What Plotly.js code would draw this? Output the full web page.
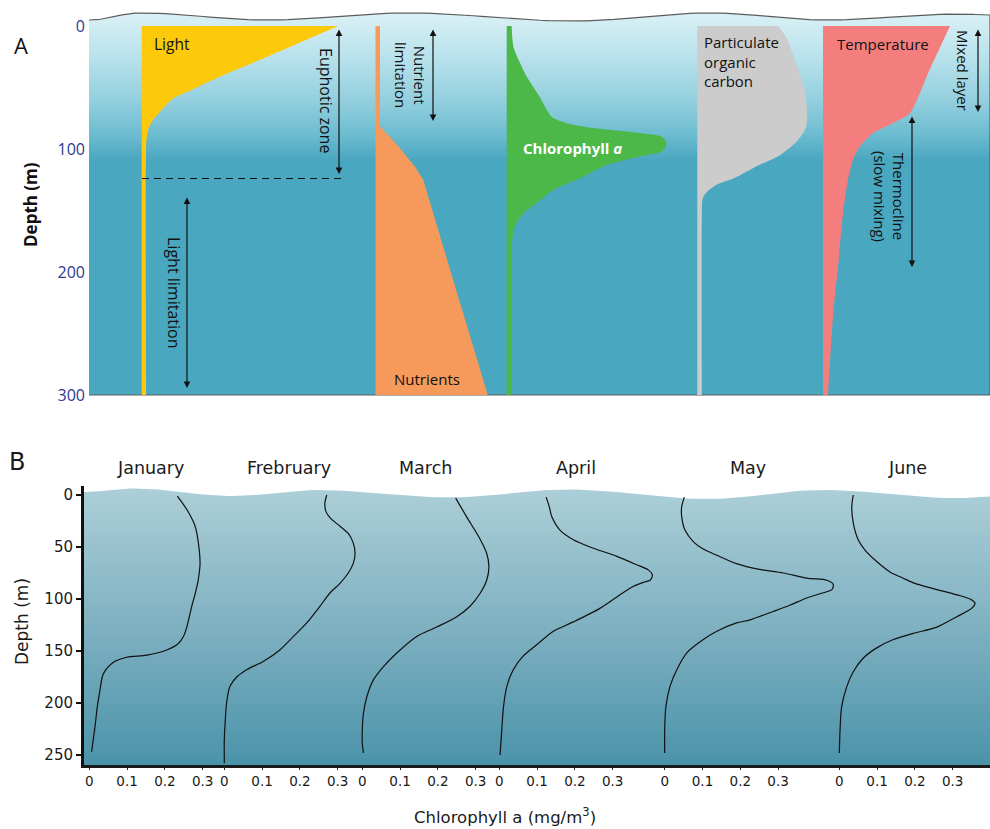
<!DOCTYPE html>
<html>
<head>
<meta charset="utf-8">
<script src="https://cdn.plot.ly/plotly-3.0.1.min.js"></script>
<style>
  html, body { margin: 0; padding: 0; background: #fff; }
  #chart { width: 990px; height: 829px; }
</style>
</head>
<body>
<div id="chart"></div>
<script>
// ---------- Panel A: idealised water-column profiles (100 = maximum of each column) ----------
const lightDepth = [0, 10, 20, 30, 37, 45, 52, 58, 64, 70, 76, 82, 90, 100, 300];
const lightValue = [100, 85.5, 71.2, 56.5, 45.8, 34.6, 25.4, 16.8, 12.5, 9.2, 6.0, 3.8, 2.6, 2.2, 2.2];

const nutrientDepth = [0, 82, 83, 88, 93, 100, 106, 115, 125, 150, 174, 200, 223, 250, 272, 300];
const nutrientValue = [4.0, 4.0, 5.3, 10.6, 15.7, 22.1, 27.4, 35.4, 42.2, 50.2, 58.0, 66.6, 74.1, 83.0, 90.2, 99.3];

const chlADepth = [0, 17, 41, 57.5, 73.7, 79, 83, 87, 90, 95.4, 102, 106, 113, 124, 133, 144, 152, 163, 179, 196, 300];
const chlAValue = [3.1, 4.2, 12.5, 20.6, 28, 37.5, 54, 83, 97, 100, 97, 83, 62.5, 45.6, 29.4, 18.8, 10.6, 5, 3.1, 2.8, 2.8];

const pocDepth = [0, 10, 32, 53, 72, 83, 94, 105, 114, 124, 129, 135, 140, 154, 300];
const pocValue = [73.6, 81.3, 90.4, 97.9, 100, 98.8, 90.4, 75.2, 54, 32.7, 17.6, 8.5, 4.9, 4.1, 4.1];

const tempDepth = [0, 35, 71, 79, 87, 98, 109, 125, 152, 196, 236, 277, 300];
const tempValue = [100, 84.2, 68.4, 55.1, 39.4, 28.9, 23.6, 19.7, 15.8, 11.8, 7.9, 5.3, 3.9];

const depthTicksA = [0, 100, 200, 300];
const euphoticDepth = 124;

// ---------- Panel B: monthly chlorophyll a profiles (mg/m^3 vs depth in m) ----------
const monthNames = ['January', 'Frebruary', 'March', 'April', 'May', 'June'];

const janDepth = [1, 14, 30, 50, 66, 82, 95, 107, 127, 136, 143, 149, 154, 156, 161, 172, 188, 204, 223, 247];
const janChl   = [0.233, 0.258, 0.280, 0.290, 0.293, 0.288, 0.280, 0.271, 0.258, 0.249, 0.235, 0.205, 0.152, 0.099, 0.063, 0.037, 0.028, 0.021, 0.015, 0.006];

const febDepth = [0, 8, 16, 22, 30, 37, 46, 56, 66, 75, 85, 94, 107, 123, 136, 149, 160, 168, 175, 184, 200, 220, 236, 258];
const febChl   = [0.271, 0.266, 0.269, 0.280, 0.306, 0.328, 0.341, 0.346, 0.341, 0.328, 0.306, 0.280, 0.253, 0.218, 0.183, 0.147, 0.103, 0.059, 0.033, 0.015, 0.006, 0.002, 0.0, 0.0];

const marDepth = [3, 21, 42, 56, 69, 82, 95, 107, 117, 127, 136, 149, 165, 178, 194, 210, 226, 239, 248];
const marChl   = [0.247, 0.276, 0.311, 0.329, 0.335, 0.329, 0.311, 0.285, 0.250, 0.197, 0.144, 0.100, 0.056, 0.029, 0.012, 0.003, 0.0, 0.0, 0.003];

const aprDepth = [2, 11, 21, 34, 43, 50, 59, 67, 72, 77, 82, 84, 88, 98, 109, 122, 131, 144, 155, 168, 184, 204, 229, 250];
const aprChl   = [0.124, 0.132, 0.139, 0.161, 0.196, 0.240, 0.311, 0.363, 0.394, 0.405, 0.399, 0.381, 0.354, 0.311, 0.266, 0.196, 0.143, 0.099, 0.063, 0.037, 0.020, 0.011, 0.006, 0.002];

const mayDepth = [2, 11, 21, 34, 45, 52, 58, 66, 71, 75, 80, 82, 86, 91, 94, 99, 106, 112, 120, 123, 131, 139, 152, 168, 184, 204, 226, 248];
const mayChl   = [0.052, 0.045, 0.045, 0.054, 0.076, 0.102, 0.138, 0.190, 0.243, 0.314, 0.376, 0.429, 0.446, 0.442, 0.420, 0.376, 0.331, 0.287, 0.226, 0.190, 0.138, 0.102, 0.058, 0.032, 0.014, 0.003, 0.0, 0.0];

const junDepth = [0, 11, 27, 43, 53, 64, 74, 80, 85, 90, 96, 100, 104, 109, 117, 127, 133, 139, 147, 157, 170, 184, 204, 226, 248];
const junChl   = [0.037, 0.033, 0.037, 0.050, 0.068, 0.099, 0.134, 0.169, 0.200, 0.249, 0.311, 0.346, 0.359, 0.350, 0.311, 0.258, 0.196, 0.143, 0.099, 0.063, 0.037, 0.020, 0.006, 0.002, 0.0];

const chlTickVals = [0, 0.1, 0.2, 0.3];
const chlTickText = ['0', '0.1', '0.2', '0.3'];
const depthTicksB = [0, 50, 100, 150, 200, 250];

// ---------- page geometry (pixels on the 990 x 829 canvas) ----------
const W = 990, H = 829;
const fx = p => p / W;
const fy = p => 1 - p / H;

// panel A: depth 0 at y=26 px, 300 m spans 369 px
const A_PX_PER_M = 369 / 300, A_TOP = 26;
const aDepthAt = py => (py - A_TOP) / A_PX_PER_M;
// panel B: depth 0 at y=495 px, 1.04 px per metre
const B_PX_PER_M = 1.04, B_TOP = 495;
const bDepthAt = py => (py - B_TOP) / B_PX_PER_M;

// decorative sea-surface outline: cosine easing between crest/trough points
function surface(points, steps) {
  const xs = [], ys = [];
  for (let i = 0; i < points.length - 1; i++) {
    const [x0, y0] = points[i], [x1, y1] = points[i + 1];
    for (let k = 0; k < steps; k++) {
      const t = k / steps, s = (1 - Math.cos(Math.PI * t)) / 2;
      xs.push(x0 + (x1 - x0) * t);
      ys.push(y0 + (y1 - y0) * s);
    }
  }
  const last = points[points.length - 1];
  xs.push(last[0]); ys.push(last[1]);
  return { xs, ys };
}
const surfA = surface([[89, 20], [140, 13], [267, 20], [407, 13], [573, 21], [710, 13], [827, 20], [960, 14], [990, 15]]
  .map(([x, y]) => [x, aDepthAt(y)]), 20);
const surfB = surface([[84, 492], [133, 488.5], [233, 496], [317, 490], [450, 497.5], [567, 489.5], [707, 499], [823, 490], [957, 498.3], [990, 496.5]]
  .map(([x, y]) => [x, bDepthAt(y)]), 20);

const A_BOTTOM = 300;
const B_BOTTOM = bDepthAt(765);

const traces = [];

// panel A water body
traces.push({
  type: 'scatter', mode: 'lines', xaxis: 'x', yaxis: 'y', hoverinfo: 'skip',
  x: surfA.xs.concat([990, 89]), y: surfA.ys.concat([A_BOTTOM, A_BOTTOM]),
  fill: 'toself',
  fillgradient: {
    type: 'vertical', start: aDepthAt(12), stop: aDepthAt(160),
    colorscale: [[0, '#dbf1f6'], [0.3, '#b9e2ec'], [0.6, '#93cfde'], [0.82, '#6ebdd1'], [1, '#4aa7c0']]
  },
  line: { color: '#5c5c5c', width: 1.2 }
});

// panel B water body
traces.push({
  type: 'scatter', mode: 'lines', xaxis: 'x2', yaxis: 'y2', hoverinfo: 'skip',
  x: surfB.xs.concat([990, 84]), y: surfB.ys.concat([B_BOTTOM, B_BOTTOM]),
  fill: 'toself',
  fillgradient: {
    type: 'vertical', start: bDepthAt(488), stop: bDepthAt(765),
    colorscale: [[0, '#accfd8'], [0.5, '#7fb1c1'], [1, '#4b93aa']]
  },
  line: { width: 0 }
});

// panel A profile columns
const columns = [
  { x: lightValue,    y: lightDepth,    axis: 'x3', color: '#fdc90b', base: 141.7, full: 196.6, shape: 'spline' },
  { x: nutrientValue, y: nutrientDepth, axis: 'x4', color: '#f59a5a', base: 375.5, full: 113,   shape: 'linear' },
  { x: chlAValue,     y: chlADepth,     axis: 'x5', color: '#4cb848', base: 506.7, full: 160,   shape: 'spline' },
  { x: pocValue,      y: pocDepth,      axis: 'x6', color: '#cccccc', base: 697.3, full: 110,   shape: 'spline' },
  { x: tempValue,     y: tempDepth,     axis: 'x7', color: '#f47e7e', base: 823,   full: 127,   shape: 'spline' }
];
columns.forEach(c => traces.push({
  type: 'scatter', mode: 'lines', xaxis: c.axis, yaxis: 'y', hoverinfo: 'skip',
  x: c.x, y: c.y, fill: 'tozerox', fillcolor: c.color,
  line: { width: 0, color: c.color, shape: c.shape, smoothing: 0.6 }
}));

// panel B monthly curves
const monthSeries = [
  [janChl, janDepth], [febChl, febDepth], [marChl, marDepth],
  [aprChl, aprDepth], [mayChl, mayDepth], [junChl, junDepth]
];
monthSeries.forEach(([chl, depth], i) => traces.push({
  type: 'scatter', mode: 'lines', xaxis: 'x' + (8 + i), yaxis: 'y2', hoverinfo: 'skip',
  x: chl, y: depth,
  line: { color: '#111', width: 1.2, shape: 'spline', smoothing: 0.8 }
}));

// ---------- axes ----------
const hidden = { visible: false, fixedrange: true, showgrid: false, zeroline: false };
const layout = {
  width: W, height: H,
  margin: { l: 0, r: 0, t: 0, b: 0 },
  paper_bgcolor: '#ffffff', plot_bgcolor: 'rgba(0,0,0,0)',
  showlegend: false,
  font: { family: 'Open Sans, sans-serif', color: '#111' },
  xaxis: Object.assign({}, hidden, { domain: [fx(86), 1], range: [86, 990], anchor: 'y' }),
  yaxis: {
    domain: [fy(398), fy(8)], range: [aDepthAt(398), aDepthAt(8)], anchor: 'x',
    tickvals: depthTicksA, ticks: '', showline: false, showgrid: false, zeroline: false,
    tickfont: { family: 'Open Sans, sans-serif', size: 16, color: '#2b3990' }, fixedrange: true
  },
  xaxis2: {
    domain: [fx(84), 1], range: [84, 990], anchor: 'y2',
    showline: true, linecolor: '#1a1a1a', linewidth: 2.5, ticks: '', showticklabels: false,
    showgrid: false, zeroline: false, fixedrange: true
  },
  yaxis2: {
    domain: [fy(765), fy(486)], range: [B_BOTTOM, bDepthAt(486)], anchor: 'x2',
    showline: true, linecolor: '#111', linewidth: 3,
    ticks: 'outside', ticklen: 5, tickwidth: 1.5, tickcolor: '#111',
    tickvals: depthTicksB, showgrid: false, zeroline: false,
    tickfont: { family: 'DejaVu Sans, sans-serif', size: 15, color: '#1a1a1a' }, fixedrange: true
  }
};

// one hidden x-axis per panel A column (0..100 of that column)
columns.forEach(c => {
  const d0 = c.base - 3, d1 = c.base + c.full * 1.05 + 3;
  layout['xaxis' + c.axis.slice(1)] = Object.assign({}, hidden, {
    domain: [fx(d0), fx(d1)], anchor: 'y',
    range: [(d0 - c.base) / c.full * 100, (d1 - c.base) / c.full * 100]
  });
});

// one chlorophyll axis per month, all at the same scale
const CHL_PX_PER_UNIT = 378;
const monthZeroPx = [89.3, 224.3, 362.3, 499.3, 664.7, 839.3];
const monthSpanPx = [[84, 222], [222, 358], [358, 496], [496, 660], [660, 835], [835, 990]];
monthZeroPx.forEach((z, i) => {
  const [d0, d1] = monthSpanPx[i];
  layout['xaxis' + (8 + i)] = {
    domain: [fx(d0), fx(d1)], anchor: 'y2',
    range: [(d0 - z) / CHL_PX_PER_UNIT, (d1 - z) / CHL_PX_PER_UNIT],
    tickvals: chlTickVals, ticktext: chlTickText,
    ticks: 'outside', ticklen: 4, tickwidth: 1, tickcolor: '#222',
    showline: false, showgrid: false, zeroline: false, fixedrange: true,
    tickfont: { family: 'DejaVu Sans, sans-serif', size: 13.5, color: '#1a1a1a' }
  };
});

// ---------- labels and arrows ----------
const txtA = (text, px, py, extra) => Object.assign({
  text, xref: 'paper', yref: 'paper', x: fx(px), y: fy(py), showarrow: false,
  xanchor: 'center', yanchor: 'middle',
  font: { family: 'Open Sans, sans-serif', size: 15, color: '#111' }
}, extra || {});
const txtB = (text, px, py, size, extra) => Object.assign({
  text, xref: 'paper', yref: 'paper', x: fx(px), y: fy(py), showarrow: false,
  xanchor: 'center', yanchor: 'middle',
  font: { family: 'DejaVu Sans, sans-serif', size, color: '#1a1a1a' }
}, extra || {});
const dblArrow = (px, d0, d1) => ({
  text: '', xref: 'x', yref: 'y', axref: 'x', ayref: 'y',
  x: px, y: d1, ax: px, ay: d0, showarrow: true,
  arrowside: 'end+start', arrowhead: 2, startarrowhead: 2,
  arrowsize: 1.1, startarrowsize: 1.1, arrowwidth: 1.2, arrowcolor: '#111',
  standoff: 0, startstandoff: 0
});

const annotations = [
  txtA('A', 21, 45, { font: { family: 'Open Sans, sans-serif', size: 22, color: '#111' } }),
  txtA('<b>Depth (m)</b>', 30, 205, { textangle: -90, font: { family: 'Open Sans, sans-serif', size: 17, color: '#111' } }),
  txtA('Light', 152, 44, { xanchor: 'left', font: { family: 'Open Sans, sans-serif', size: 15.5, color: '#111' } }),
  txtA('Euphotic zone', 326, 100, { textangle: 90, font: { family: 'Open Sans, sans-serif', size: 16, color: '#111' } }),
  txtA('Light limitation', 174, 292, { textangle: 90, font: { family: 'Open Sans, sans-serif', size: 16, color: '#111' } }),
  txtA('Nutrient<br>limitation', 410, 75, { textangle: 90 }),
  txtA('Nutrients', 427, 379),
  txtA('<b>Chlorophyll <i>a</i></b>', 572, 148, { font: { family: 'Open Sans, sans-serif', size: 15, color: '#ffffff' } }),
  txtA('Particulate<br>organic<br>carbon', 702, 61, { xanchor: 'left', align: 'left' }),
  txtA('Temperature', 835, 44, { xanchor: 'left' }),
  txtA('Mixed layer', 963, 70, { textangle: 90 }),
  txtA('Thermocline<br>(slow mixing)', 889, 196, { textangle: 90 }),
  dblArrow(339, aDepthAt(28), aDepthAt(174)),
  dblArrow(187, aDepthAt(196), aDepthAt(388)),
  dblArrow(433, aDepthAt(28), aDepthAt(121)),
  dblArrow(978, aDepthAt(28), aDepthAt(112)),
  dblArrow(912, aDepthAt(115), aDepthAt(267)),

  txtB('B', 17, 462, 24),
  txtB('Depth (m)', 22, 622, 17, { textangle: -90 }),
  txtB('Chlorophyll a (mg/m<sup>3</sup>)', 505, 816, 16.5)
];
const monthLabelPx = [150, 289, 425, 576, 748, 907];
monthNames.forEach((m, i) => annotations.push(txtB(m, monthLabelPx[i], 468, 17.5)));
layout.annotations = annotations;

layout.shapes = [
  {
    type: 'line', xref: 'x', yref: 'y', x0: 142, x1: 343, y0: euphoticDepth, y1: euphoticDepth,
    line: { color: '#111', width: 1, dash: '7px,5px' }
  }
];

Plotly.newPlot('chart', traces, layout, { displayModeBar: false, staticPlot: true });
</script>
</body>
</html>
